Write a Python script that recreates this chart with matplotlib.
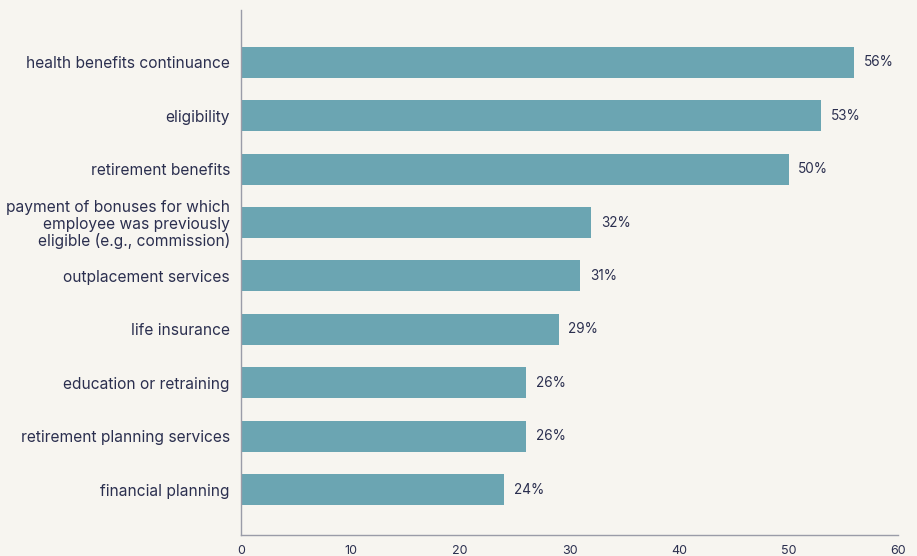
import matplotlib.pyplot as plt

# survey data: share of organisations offering each benefit (%)
categories = [
    "health benefits continuance",
    "eligibility",
    "retirement benefits",
    "payment of bonuses for which\nemployee was previously\neligible (e.g., commission)",
    "outplacement services",
    "life insurance",
    "education or retraining",
    "retirement planning services",
    "financial planning",
]
values = [56, 53, 50, 32, 31, 29, 26, 26, 24]
xticks = [0, 10, 20, 30, 40, 50, 60]

bg = "#f7f5f0"
bar_color = "#6ba5b2"
text_color = "#2b2f4f"

plt.rcParams["font.family"] = ["Inter", "DejaVu Sans"]

fig = plt.figure(figsize=(9.17, 5.56), dpi=100, facecolor=bg)
ax = fig.add_axes([0.2628, 0.0378, 0.7165, 0.9442], facecolor=bg)

ypos = list(range(len(categories)))
ax.barh(ypos, values, height=0.58, color=bar_color)

for y, v in zip(ypos, values):
    ax.text(v + 0.9, y, f"{v}%", va="center", ha="left",
            fontsize=9.8, color=text_color)

ax.set_yticks(ypos)
ax.set_yticklabels(categories, fontsize=11.2, color=text_color, linespacing=1.1)
ax.set_xticks(xticks)
ax.set_xticklabels([str(t) for t in xticks], fontsize=9, color=text_color)
ax.set_xlim(0, 60)
ax.set_ylim(8.85, -0.98)

ax.tick_params(axis="both", length=0)
ax.tick_params(axis="y", pad=8)
ax.tick_params(axis="x", pad=7)
for side in ["top", "right"]:
    ax.spines[side].set_visible(False)
for side in ["left", "bottom"]:
    ax.spines[side].set_color("#9a9ca8")
    ax.spines[side].set_linewidth(1.0)

fig.savefig("out.png", dpi=100, facecolor=bg)
